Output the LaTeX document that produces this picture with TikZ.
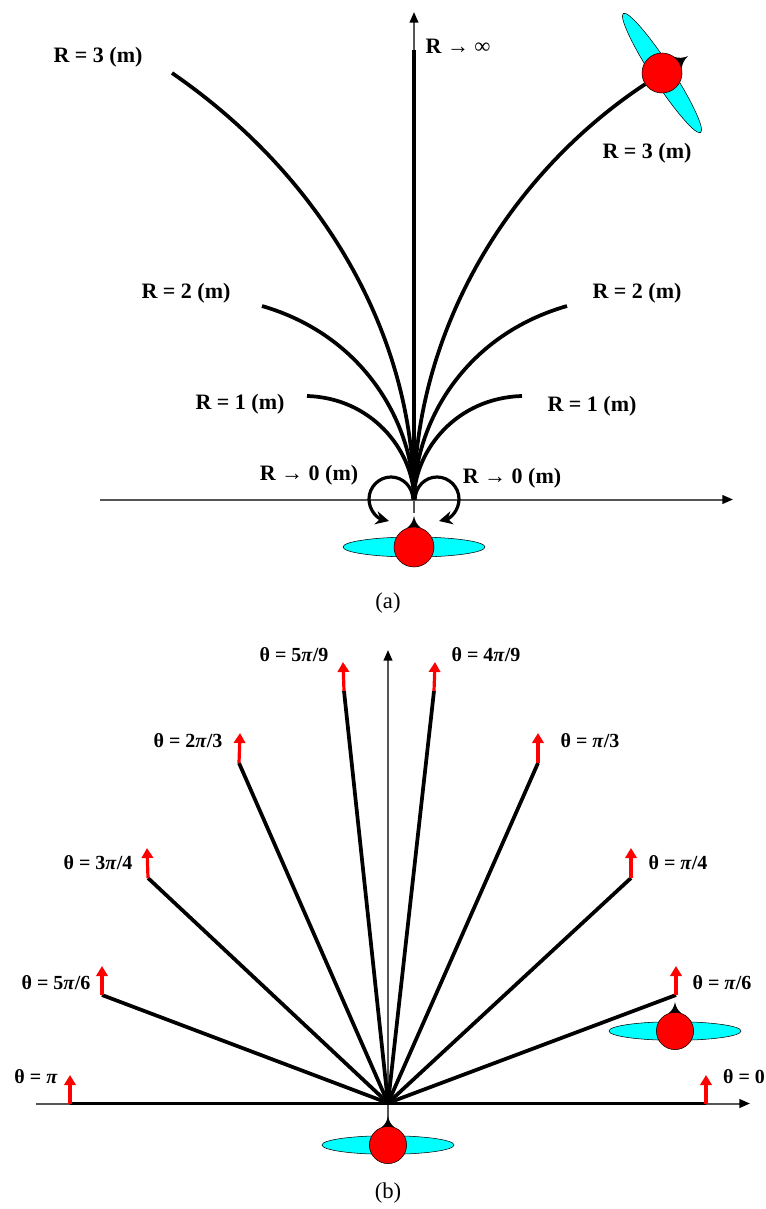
\documentclass[tikz,border=0pt]{standalone}
\usepackage{fontspec}
\setmainfont{Liberation Serif}
\usepackage{xcolor}
\usetikzlibrary{arrows.meta,positioning,shapes.geometric}
\definecolor{DipoleCyan}{HTML}{00FFFF}
\definecolor{DipoleRed}{HTML}{FF0000}
\definecolor{AxisGray}{HTML}{555555}
\tikzset{
  axisline/.style={AxisGray,line width=1.5pt,-{Triangle[length=8pt,width=6.5pt,color=black]}},
  fieldline/.style={black,line width=2.8pt},
  curlline/.style={black,line width=2.4pt,-{Stealth[length=10pt,width=10pt]}},
  uparrow/.style={DipoleRed,line width=2.4pt,-{Triangle[length=7.5pt,width=8.5pt]}},
  rlabel/.style={font=\fontsize{16.5}{16.5}\selectfont\bfseries,inner sep=0pt},
  tlabel/.style={font=\fontsize{15}{15}\selectfont\bfseries,inner sep=0pt},
  caption/.style={font=\fontsize{17}{17}\selectfont,inner sep=0pt},
  pics/dipole/.style={code={
    \node[draw=black,fill=DipoleCyan,ellipse,transform shape,minimum width=106.5pt,minimum height=15pt,inner sep=0pt] (-disc) at (0,0) {};
    \fill[black] (-7,-19) .. controls (-3,-22) and (-1,-26) .. (0,-31) .. controls (1,-26) and (3,-22) .. (7,-19) -- cycle;
    \node[draw=black,fill=DipoleRed,circle,transform shape,minimum size=30pt,inner sep=0pt] (-ball) at (0,0) {};
  }}
}
\begin{document}
\begin{tikzpicture}[x=0.75pt,y=-0.75pt]
  \useasboundingbox (0,0) rectangle (765,1209);
  % upper panel
  \coordinate (xa1) at (100,499.5);
  \coordinate (xa2) at (733,499.5);
  \coordinate (ya1) at (414,513);
  \coordinate (ya2) at (414,12);
  \coordinate (oa) at (414,496);
  \coordinate (inf) at (414,50);
  \coordinate (l3) at (172,73);
  \coordinate (l2) at (262,306);
  \coordinate (l1) at (307,396);
  \coordinate (r2) at (567,306);
  \coordinate (r1) at (522,396);
  \coordinate (cl1) at (413,500);
  \coordinate (cl2) at (389,521);
  \coordinate (cr1) at (415,500);
  \coordinate (cr2) at (439,521);
  \draw[axisline] (xa1) -- (xa2);
  \draw[axisline] (ya1) -- (ya2);
  \pic[rotate=-57] (tip) at (662,73) {dipole};
  \pic (base) at (414,547) {dipole};
  \draw[fieldline] (oa) -- (inf);
  \draw[fieldline] (oa) .. controls (412,330) and (320,175) .. (l3);
  \draw[fieldline] (oa) .. controls (412,420) and (362,335) .. (l2);
  \draw[fieldline] (oa) .. controls (412,450) and (372,398) .. (l1);
  \draw[fieldline] (oa) .. controls (416,330) and (508,175) .. (tip-ball);
  \draw[fieldline] (oa) .. controls (416,420) and (466,335) .. (r2);
  \draw[fieldline] (oa) .. controls (416,450) and (456,398) .. (r1);
  \draw[curlline] (cl1) .. controls (413,487) and (403,477) .. (391,477) .. controls (379,477) and (369,487) .. (369,499) .. controls (369,510) and (377,518) .. (cl2);
  \draw[curlline] (cr1) .. controls (415,487) and (425,477) .. (437,477) .. controls (449,477) and (459,487) .. (459,499) .. controls (459,510) and (451,518) .. (cr2);
  \node[rlabel] (rl3) at (98,57) {R = 3 (m)};
  \node[rlabel] (rinf) at (458,46) {R → ∞};
  \node[rlabel] (rr3) at (647,153) {R = 3 (m)};
  \node[rlabel] (rl2) at (186,293) {R = 2 (m)};
  \node[rlabel] (rr2) at (637,293) {R = 2 (m)};
  \node[rlabel] (rl1) at (240,404) {R = 1 (m)};
  \node[rlabel] (rr1) at (592,406) {R = 1 (m)};
  \node[rlabel] (rl0) at (309,475) {R → 0 (m)};
  \node[rlabel] (rr0) at (512,478) {R → 0 (m)};
  \node[caption] (capa) at (388,603) {(a)};
  % lower panel
  \coordinate (xb1) at (36,1103.5);
  \coordinate (xb2) at (750,1103.5);
  \coordinate (yb1) at (388,1120);
  \coordinate (yb2) at (388,650);
  \coordinate (ob) at (388,1103);
  \coordinate (e0) at (706,1103.5);
  \coordinate (e1) at (676,995);
  \coordinate (e2) at (631,878);
  \coordinate (e3) at (538,763);
  \coordinate (e4) at (434,691);
  \coordinate (e5) at (344,691);
  \coordinate (e6) at (239,763);
  \coordinate (e7) at (148,878);
  \coordinate (e8) at (102,995);
  \coordinate (e9) at (70,1103.5);
  \coordinate (u0) at (706,1075);
  \coordinate (u1) at (676,966);
  \coordinate (u2) at (631,848);
  \coordinate (u3) at (538,733);
  \coordinate (u4) at (435,662);
  \coordinate (u5) at (343,662);
  \coordinate (u6) at (240,733);
  \coordinate (u7) at (147,848);
  \coordinate (u8) at (102,966);
  \coordinate (u9) at (70,1075);
  \draw[axisline] (xb1) -- (xb2);
  \draw[axisline] (yb1) -- (yb2);
  \pic[scale=0.93] (south) at (388,1145) {dipole};
  \pic[scale=0.93] (east) at (675,1031) {dipole};
  \draw[fieldline] (e9) -- (e0);
  \draw[fieldline] (ob) -- (e1);
  \draw[fieldline] (ob) -- (e2);
  \draw[fieldline] (ob) -- (e3);
  \draw[fieldline] (ob) -- (e4);
  \draw[fieldline] (ob) -- (e5);
  \draw[fieldline] (ob) -- (e6);
  \draw[fieldline] (ob) -- (e7);
  \draw[fieldline] (ob) -- (e8);
  \draw[uparrow] (e0) -- (u0);
  \draw[uparrow] (e1) -- (u1);
  \draw[uparrow] (e2) -- (u2);
  \draw[uparrow] (e3) -- (u3);
  \draw[uparrow] (e4) -- (u4);
  \draw[uparrow] (e5) -- (u5);
  \draw[uparrow] (e6) -- (u6);
  \draw[uparrow] (e7) -- (u7);
  \draw[uparrow] (e8) -- (u8);
  \draw[uparrow] (e9) -- (u9);
  \node[tlabel] (t5n) at (294,655) {θ = 5\textit{π}/9};
  \node[tlabel] (t4n) at (486,655) {θ = 4\textit{π}/9};
  \node[tlabel] (t2t) at (188,741) {θ = 2\textit{π}/3};
  \node[tlabel] (tpt) at (590,741) {θ = \textit{π}/3};
  \node[tlabel] (t3q) at (98,863) {θ = 3\textit{π}/4};
  \node[tlabel] (tpq) at (678,863) {θ = \textit{π}/4};
  \node[tlabel] (t5s) at (56,983) {θ = 5\textit{π}/6};
  \node[tlabel] (tps) at (722,983) {θ = \textit{π}/6};
  \node[tlabel] (tpi) at (36,1077) {θ = \textit{π}};
  \node[tlabel] (tz) at (744,1077) {θ = 0};
  \node[caption] (capb) at (388,1193) {(b)};
\end{tikzpicture}
\end{document}
